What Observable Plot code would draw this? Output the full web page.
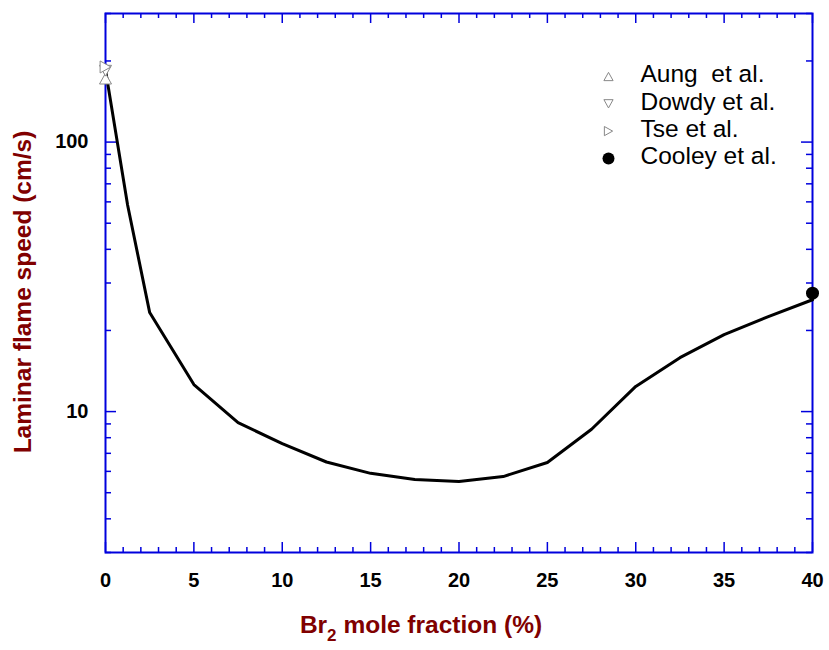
<!DOCTYPE html>
<html>
<head>
<meta charset="utf-8">
<script src="https://cdn.jsdelivr.net/npm/d3@7"></script>
<script src="https://cdn.jsdelivr.net/npm/@observablehq/plot@0.6"></script>
<style>
  body { margin: 0; background: #fff; }
  #chart svg { font-family: "Liberation Sans", Arial, sans-serif; }
</style>
</head>
<body>
<div id="chart"></div>
<script>
// ---- data ----
const br2Fraction = [0, 1.25, 2.5, 5, 7.5, 10, 12.5, 15, 17.5, 20, 22.5, 25, 27.5, 30, 32.5, 35, 37.5, 40];
const flameSpeed  = [185, 58.4, 23.3, 12.6, 9.1, 7.6, 6.5, 5.9, 5.6, 5.5, 5.74, 6.47, 8.6, 12.4, 15.85, 19.3, 22.5, 26];

const seriesNames = ["Aung  et al.", "Dowdy et al.", "Tse et al.", "Cooley et al."];
const seriesX = [0, 0, 0, 40];
const seriesY = [172, 184, 190, 27.5];

const xMajor = [0, 5, 10, 15, 20, 25, 30, 35, 40];
const xMinor = d3.range(0, 41, 1).filter(d => d % 5 !== 0);
const yMajor = [10, 100];
const yMinor = [3, 4, 5, 6, 7, 8, 9, 20, 30, 40, 50, 60, 70, 80, 90, 200, 300];

// ---- layout ----
const W = 829, H = 650;
const mL = 105, mR = 17, mT = 13, mB = 98;
const FW = W - mL - mR, FH = H - mT - mB;
const blue = "#0000dd";
const red = "#800000";

// custom triangle symbols
function tri(kind) {
  return {
    draw(ctx, size) {
      const r = Math.sqrt(size / Math.PI);
      const w = 2 * r, h = 1.8 * r;
      if (kind === "up") {
        ctx.moveTo(0, -h / 2); ctx.lineTo(w / 2, h / 2); ctx.lineTo(-w / 2, h / 2);
      } else if (kind === "down") {
        ctx.moveTo(0, h / 2); ctx.lineTo(w / 2, -h / 2); ctx.lineTo(-w / 2, -h / 2);
      } else {
        ctx.moveTo(h / 2, 0); ctx.lineTo(-h / 2, -w / 2); ctx.lineTo(-h / 2, w / 2);
      }
      ctx.closePath();
    }
  };
}
const symbols = [tri("up"), tri("down"), tri("right"), "circle"];

const lineData = br2Fraction.map((x, i) => ({x, y: flameSpeed[i]}));
const pts = seriesNames.map((name, i) => ({name, x: seriesX[i], y: seriesY[i], i}));

const marks = [
  // ticks (inward)
  Plot.tickX(xMajor, {x: d => d, stroke: blue, strokeWidth: 1.5, insetTop: FH - 10}),
  Plot.tickX(xMajor, {x: d => d, stroke: blue, strokeWidth: 1.5, insetBottom: FH - 10}),
  Plot.tickX(xMinor, {x: d => d, stroke: blue, strokeWidth: 1.5, insetTop: FH - 5}),
  Plot.tickX(xMinor, {x: d => d, stroke: blue, strokeWidth: 1.5, insetBottom: FH - 5}),
  Plot.tickY(yMajor, {y: d => d, stroke: blue, strokeWidth: 1.5, insetRight: FW - 11}),
  Plot.tickY(yMajor, {y: d => d, stroke: blue, strokeWidth: 1.5, insetLeft: FW - 11}),
  Plot.tickY(yMinor, {y: d => d, stroke: blue, strokeWidth: 1.5, insetRight: FW - 6}),
  Plot.tickY(yMinor, {y: d => d, stroke: blue, strokeWidth: 1.5, insetLeft: FW - 6}),
  Plot.frame({stroke: blue, strokeWidth: 2}),
  Plot.axisX({ticks: xMajor, tickSize: 0, tickPadding: 20, fontSize: 20, fontWeight: "bold", fill: "black", label: null}),
  Plot.axisY({ticks: yMajor, tickFormat: d => String(d), tickSize: 0, tickPadding: 17, fontSize: 20, fontWeight: "bold", fill: "black", label: null}),
  Plot.line(lineData, {x: "x", y: "y", stroke: "black", strokeWidth: 3}),
  // data markers
  ...pts.slice(0, 3).map(p => Plot.dot([p], {x: "x", y: "y", symbol: symbols[p.i], r: 6, stroke: "#888", strokeWidth: 1, fill: "white"})),
  Plot.dot([pts[3]], {x: "x", y: "y", r: 6.5, fill: "black"}),
  // y title
  Plot.text(["Laminar flame speed (cm/s)"], {frameAnchor: "left", rotate: -90, textAnchor: "middle", lineAnchor: "middle",
      dx: -82, dy: 9, fontSize: 24.5, fontWeight: "bold", fill: red}),
  // legend
  ...seriesNames.map((name, i) => Plot.dot([name], {frameAnchor: "top-left", dx: 503, dy: 63 + i * 27.3,
      symbol: symbols[i], r: i === 3 ? 6 : 4.6, stroke: i === 3 ? "none" : "#888", strokeWidth: 1, fill: i === 3 ? "black" : "white"})),
  ...seriesNames.map((name, i) => Plot.text([name.replace("  ", "\u00a0 ")], {frameAnchor: "top-left", dx: 535, dy: 61 + i * 27.3,
      textAnchor: "start", lineAnchor: "middle", fontSize: 24.5, fill: "black"}))
];

const chart = Plot.plot({
  width: W, height: H,
  marginLeft: mL, marginRight: mR, marginTop: mT, marginBottom: mB,
  x: {domain: [0, 40]},
  y: {type: "log", domain: [3, 300]},
  style: {fontFamily: "Liberation Sans, Arial, sans-serif", background: "white", overflow: "visible"},
  marks
});
document.getElementById("chart").appendChild(chart);

// x title with subscript
const xt = d3.select(chart).append("text")
  .attr("x", 421).attr("y", 633)
  .attr("text-anchor", "middle")
  .attr("fill", red)
  .attr("font-size", 24.5).attr("font-weight", "bold")
  .attr("font-family", "Liberation Sans, Arial, sans-serif");
xt.append("tspan").text("Br");
xt.append("tspan").attr("dy", 8).attr("font-size", 17).text("2");
xt.append("tspan").attr("dy", -8).text(" mole fraction (%)");
</script>
</body>
</html>
